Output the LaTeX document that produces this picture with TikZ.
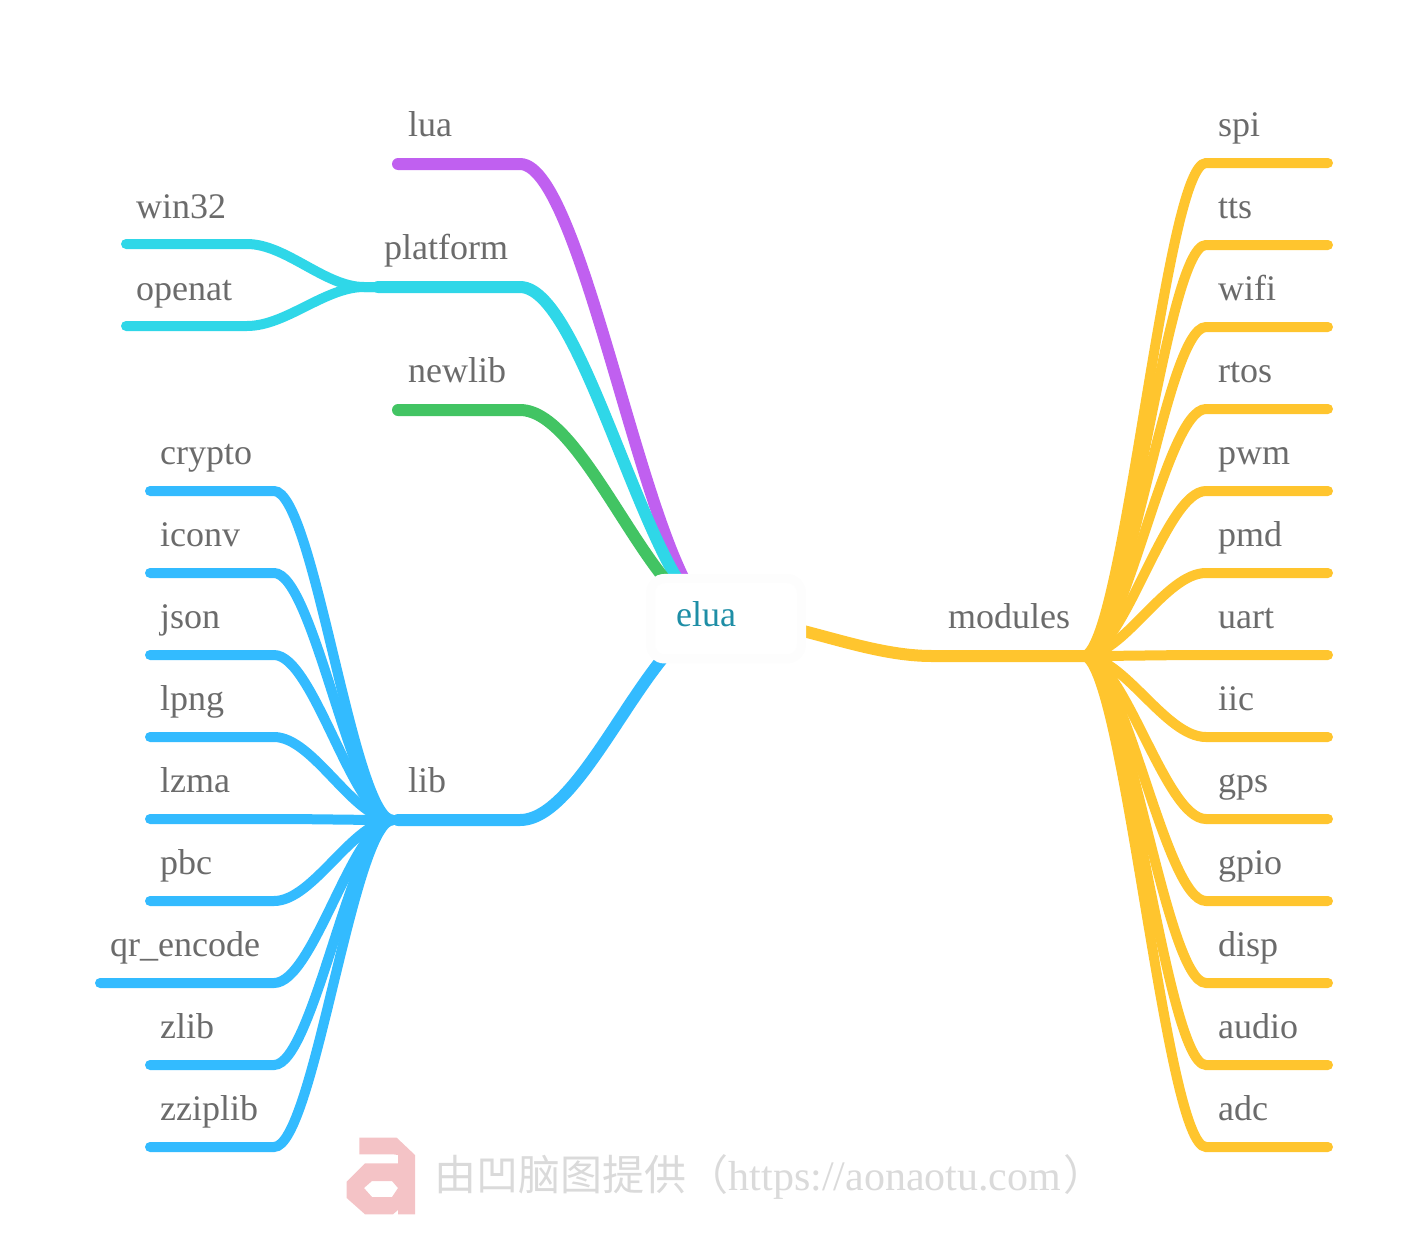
\documentclass[tikz,border=0pt]{standalone}
\usepackage{fontspec}
\setmainfont{Liberation Serif}
\newfontfamily\cjk{Noto Sans CJK SC}[Scale=1]
\usetikzlibrary{calc,backgrounds}
\definecolor{cpurple}{HTML}{C060F0}
\definecolor{ccyan}{HTML}{2FD7E8}
\definecolor{cgreen}{HTML}{42C463}
\definecolor{cblue}{HTML}{33BBFF}
\definecolor{cyellow}{HTML}{FFC52E}
\definecolor{ctext}{HTML}{6B6B6B}
\definecolor{celua}{HTML}{1E8EA6}
\definecolor{cmark}{HTML}{DADADA}
\definecolor{clogo}{HTML}{F4C3C6}
\definecolor{cedge}{HTML}{FDFDFD}
\tikzset{
  lab/.style={anchor=base west,inner sep=0pt,text=ctext,font=\fontsize{36}{40}\selectfont},
  stem/.style={line width=12pt,line cap=round,draw=#1},
  twig/.style={line width=10pt,line cap=round,draw=#1},
  bez/.style={to path={let \p1=(\tikztostart),\p2=(\tikztotarget) in .. controls ({0.6667*\x1+0.3333*\x2},\y1) and ({0.3333*\x1+0.6667*\x2},\y2) .. (\p2)}},
  ebox/.style={draw=cedge,fill=white,line width=9pt,rounded corners=14pt,minimum width=151pt,minimum height=80.5pt,inner sep=0pt}
}
\begin{document}
\begin{tikzpicture}[x=1pt,y=-1pt]
\useasboundingbox (0,0) rectangle (1428,1242);
% centre node
\node[ebox] (elua) at (726,618.7) {};
\node[lab,text=celua] (eluat) at (676,626) {elua};
\coordinate (eluaC) at (720,618);
% first level labels and connectors
\foreach \n/\t/\x/\y/\sx/\c in {lua/lua/408/164/398/cpurple,platform/platform/384/287/378/ccyan,newlib/newlib/408/410/398/cgreen,lib/lib/408/820/398/cblue}{
  \node[lab] (\n) at (\x,\y-28) {\t};
  \coordinate (\n s) at (\sx,\y);
  \coordinate (\n b) at (520,\y);
  \begin{scope}[on background layer]
    \draw[stem=\c] (\n s) -- (\n b) to[bez] (eluaC);
  \end{scope}
}
% modules
\node[lab] (modules) at (948,628) {modules};
\coordinate (mods) at (932,656);
\coordinate (mode) at (1085,656);
\coordinate (modh) at (1083,656);
\begin{scope}[on background layer]
  \draw[stem=cyellow] (eluaC) to[bez] (mods) -- (mode);
\end{scope}
% right leaves
\foreach \i/\t in {0/spi,1/tts,2/wifi,3/rtos,4/pwm,5/pmd,6/uart,7/iic,8/gps,9/gpio,10/disp,11/audio,12/adc}{
  \pgfmathsetmacro{\yy}{163+82*\i}
  \node[lab] (r\i) at (1218,\yy-27) {\t};
  \coordinate (r\i b) at (1206,\yy);
  \coordinate (r\i e) at (1328,\yy);
  \begin{scope}[on background layer]
    \draw[twig=cyellow] (modh) to[bez] (r\i b) -- (r\i e);
  \end{scope}
}
% lib leaves
\coordinate (libh) at (393,820);
\foreach \i/\t/\tx/\ex in {0/crypto/160/150,1/iconv/160/150,2/json/160/150,3/lpng/160/150,4/lzma/160/150,5/pbc/160/150,6/qr\_encode/110/100,7/zlib/160/150,8/zziplib/160/150}{
  \pgfmathsetmacro{\yy}{491+82*\i}
  \node[lab] (l\i) at (\tx,\yy-27) {\t};
  \coordinate (l\i b) at (274,\yy);
  \coordinate (l\i e) at (\ex,\yy);
  \begin{scope}[on background layer]
    \draw[twig=cblue] (libh) to[bez] (l\i b) -- (l\i e);
  \end{scope}
}
% platform leaves
\node[lab] (win) at (136,218) {win32};
\node[lab] (ope) at (136,300) {openat};
\coordinate (plath) at (364,287);
\coordinate (winb) at (247,244);
\coordinate (wine) at (126,244);
\coordinate (opeb) at (247,326);
\coordinate (opee) at (126,326);
\begin{scope}[on background layer]
  \draw[twig=ccyan] (platforms) -- (plath) to[bez] (winb) -- (wine);
  \draw[twig=ccyan] (platforms) -- (plath) to[bez] (opeb) -- (opee);
\end{scope}
% watermark
\fill[clogo,even odd rule] (359.3,1137.7) -- (396.7,1137.7) -- (415,1155) -- (415,1214.3) -- (398,1214.3) -- (398,1210) -- (393,1214.3) -- (365,1214.3) -- (346.7,1198) -- (346.7,1181.7) -- (365,1163.3) -- (398,1163.3) -- (398,1155) -- (393,1154.3) -- (359.3,1154.3) -- cycle
  (364,1188) -- (372,1181) -- (392,1181) -- (398,1188) -- (392,1197) -- (372,1197) -- cycle;
\node[anchor=base west,inner sep=0pt,text=cmark,font=\fontsize{42}{46}\selectfont] (mark) at (434.5,1190) {{\cjk 由凹脑图提供（}https://aonaotu.com\kern2pt{\cjk ）}};
\end{tikzpicture}
\end{document}
